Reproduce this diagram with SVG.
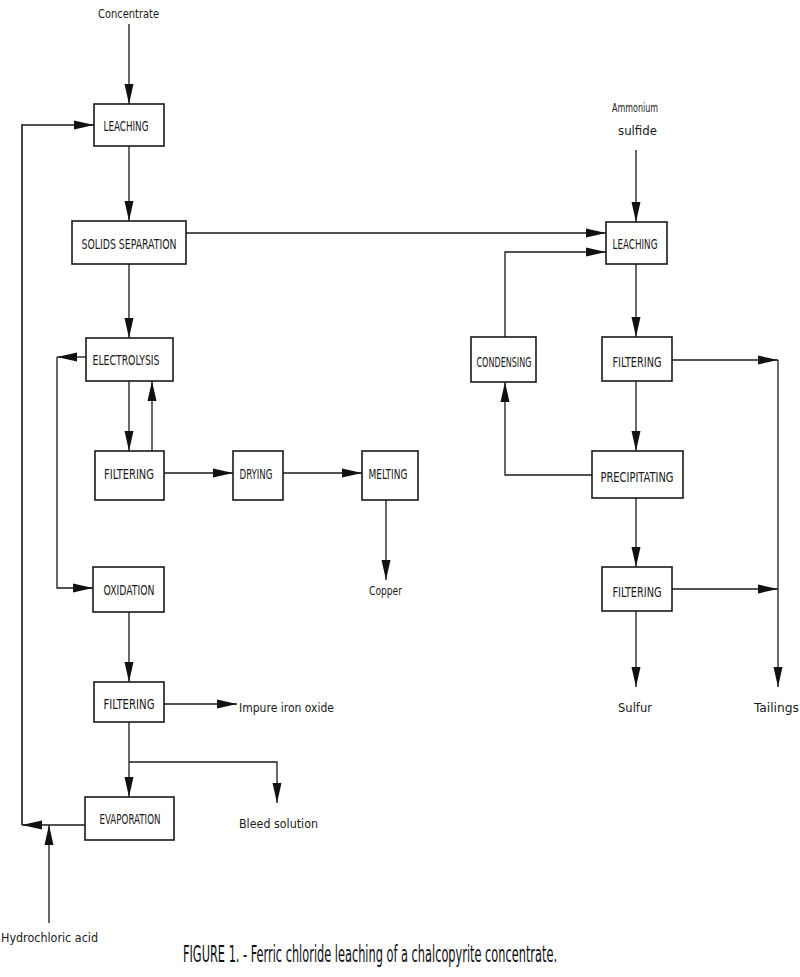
<svg xmlns="http://www.w3.org/2000/svg" width="800" height="977" viewBox="0 0 800 977">
<style>
.box{fill:#fff;stroke:#1a1a1a;stroke-width:1.6}
.lbl{font-family:"DejaVu Sans Condensed","Liberation Sans Narrow","Liberation Sans",sans-serif;font-size:13.5px;fill:#1a1a1a;text-anchor:middle}
.txt{font-family:"DejaVu Sans Condensed","Liberation Sans Narrow","Liberation Sans",sans-serif;font-size:12.5px;fill:#1a1a1a}
.cap{font-family:"DejaVu Sans Condensed","Liberation Sans Narrow","Liberation Sans",sans-serif;font-size:23px;fill:#111}
.ln{fill:none;stroke:#1a1a1a;stroke-width:1.3}
</style>
<defs>
<marker id="ah" markerUnits="userSpaceOnUse" markerWidth="20" markerHeight="10" refX="20" refY="5" orient="auto" viewBox="0 0 20 10">
<path d="M0,0.5 L20,5 L0,9.5 z" fill="#111"/>
</marker>
</defs>
<rect width="800" height="977" fill="#fff"/>
<g id="connectors">
<path class="ln" d="M129,24 V104" marker-end="url(#ah)"/>
<path class="ln" d="M85,825 H22" marker-end="url(#ah)"/>
<path class="ln" d="M22,825 V125 H94" marker-end="url(#ah)" style="stroke-width:1.6"/>
<path class="ln" d="M49,923 V825" marker-end="url(#ah)"/>
<path class="ln" d="M129,146 V221" marker-end="url(#ah)"/>
<path class="ln" d="M186,233 H606" marker-end="url(#ah)"/>
<path class="ln" d="M129,264 V338" marker-end="url(#ah)"/>
<path class="ln" d="M86,357 H57" marker-end="url(#ah)"/>
<path class="ln" d="M57,357 V588 H93" marker-end="url(#ah)"/>
<path class="ln" d="M129,381 V451" marker-end="url(#ah)"/>
<path class="ln" d="M152,451 V381" marker-end="url(#ah)"/>
<path class="ln" d="M164,473 H233" marker-end="url(#ah)"/>
<path class="ln" d="M283,473 H362" marker-end="url(#ah)"/>
<path class="ln" d="M386,500 V580" marker-end="url(#ah)"/>
<path class="ln" d="M129,612 V682" marker-end="url(#ah)"/>
<path class="ln" d="M164,704 H237" marker-end="url(#ah)"/>
<path class="ln" d="M129,722 V797" marker-end="url(#ah)"/>
<path class="ln" d="M129,762 H277 V803" marker-end="url(#ah)"/>
<path class="ln" d="M636,150 V222" marker-end="url(#ah)"/>
<path class="ln" d="M636,264 V337" marker-end="url(#ah)"/>
<path class="ln" d="M505,337 V252 H606" marker-end="url(#ah)"/>
<path class="ln" d="M672,360 H778" marker-end="url(#ah)"/>
<path class="ln" d="M778,360 V687" marker-end="url(#ah)"/>
<path class="ln" d="M636,381 V451" marker-end="url(#ah)"/>
<path class="ln" d="M592,475 H505 V382" marker-end="url(#ah)"/>
<path class="ln" d="M636,498 V567" marker-end="url(#ah)"/>
<path class="ln" d="M672,589 H778" marker-end="url(#ah)"/>
<path class="ln" d="M636,611 V687" marker-end="url(#ah)"/>
</g>
<g id="leaching1"><rect class="box" x="94" y="104" width="70" height="42"/><text class="lbl" x="126" y="131" textLength="45" lengthAdjust="spacingAndGlyphs">LEACHING</text></g>
<g id="solids"><rect class="box" x="72" y="221" width="114" height="43"/><text class="lbl" x="129" y="249" textLength="95" lengthAdjust="spacingAndGlyphs">SOLIDS SEPARATION</text></g>
<g id="electrolysis"><rect class="box" x="86" y="338" width="87" height="43"/><text class="lbl" x="126" y="365" textLength="67" lengthAdjust="spacingAndGlyphs">ELECTROLYSIS</text></g>
<g id="filtering1"><rect class="box" x="95" y="451" width="69" height="49"/><text class="lbl" x="129" y="479" textLength="50" lengthAdjust="spacingAndGlyphs">FILTERING</text></g>
<g id="drying"><rect class="box" x="233" y="451" width="50" height="49"/><text class="lbl" x="256" y="479" textLength="33" lengthAdjust="spacingAndGlyphs">DRYING</text></g>
<g id="melting"><rect class="box" x="362" y="451" width="56" height="49"/><text class="lbl" x="388" y="479" textLength="39" lengthAdjust="spacingAndGlyphs">MELTING</text></g>
<g id="oxidation"><rect class="box" x="93" y="567" width="71" height="45"/><text class="lbl" x="129" y="595" textLength="51" lengthAdjust="spacingAndGlyphs">OXIDATION</text></g>
<g id="filtering2"><rect class="box" x="94" y="682" width="70" height="40"/><text class="lbl" x="129" y="709" textLength="51" lengthAdjust="spacingAndGlyphs">FILTERING</text></g>
<g id="evaporation"><rect class="box" x="85" y="797" width="89" height="43"/><text class="lbl" x="130" y="824" textLength="61" lengthAdjust="spacingAndGlyphs">EVAPORATION</text></g>
<g id="leaching2"><rect class="box" x="606" y="222" width="61" height="42"/><text class="lbl" x="635" y="249" textLength="45" lengthAdjust="spacingAndGlyphs">LEACHING</text></g>
<g id="condensing"><rect class="box" x="471" y="337" width="65" height="45"/><text class="lbl" x="504" y="367" textLength="55" lengthAdjust="spacingAndGlyphs">CONDENSING</text></g>
<g id="filtering3"><rect class="box" x="602" y="337" width="70" height="44"/><text class="lbl" x="637" y="367" textLength="49" lengthAdjust="spacingAndGlyphs">FILTERING</text></g>
<g id="precipitating"><rect class="box" x="592" y="451" width="91" height="47"/><text class="lbl" x="637" y="482" textLength="73" lengthAdjust="spacingAndGlyphs">PRECIPITATING</text></g>
<g id="filtering4"><rect class="box" x="602" y="567" width="70" height="44"/><text class="lbl" x="637" y="597" textLength="49" lengthAdjust="spacingAndGlyphs">FILTERING</text></g>
<g id="labels">
<text class="txt" x="98" y="18" textLength="61" lengthAdjust="spacingAndGlyphs">Concentrate</text>
<text class="txt" x="612" y="112" textLength="46" lengthAdjust="spacingAndGlyphs">Ammonium</text>
<text class="txt" x="618" y="135" textLength="39" lengthAdjust="spacingAndGlyphs">sulfide</text>
<text class="txt" x="369" y="595" textLength="33" lengthAdjust="spacingAndGlyphs">Copper</text>
<text class="txt" x="239" y="712" textLength="95" lengthAdjust="spacingAndGlyphs">Impure iron oxide</text>
<text class="txt" x="239" y="828" textLength="79" lengthAdjust="spacingAndGlyphs">Bleed solution</text>
<text class="txt" x="1" y="942" textLength="97" lengthAdjust="spacingAndGlyphs">Hydrochloric acid</text>
<text class="txt" x="618" y="712" textLength="34" lengthAdjust="spacingAndGlyphs">Sulfur</text>
<text class="txt" x="754" y="712" textLength="45" lengthAdjust="spacingAndGlyphs">Tailings</text>
<text class="cap" transform="translate(183,962) scale(0.5,1)" x="0" y="0" textLength="748" lengthAdjust="spacingAndGlyphs">FIGURE 1. - Ferric chloride leaching of a chalcopyrite concentrate.</text>
</g>
</svg>
